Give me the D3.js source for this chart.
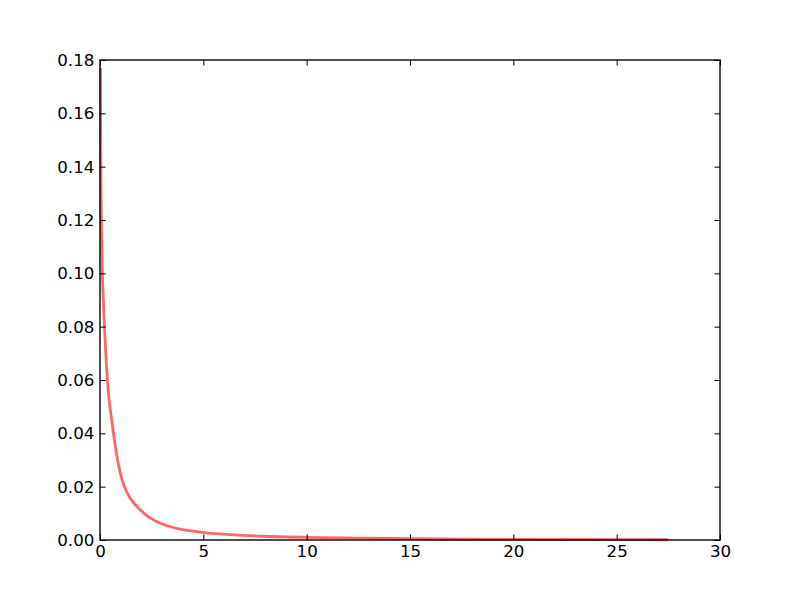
<!DOCTYPE html>
<meta charset="utf-8">
<script src="https://d3js.org/d3.v7.min.js"></script>
<style>
  body { margin: 0; background: #fff; }
  text { font-family: "DejaVu Sans", sans-serif; }
</style>
<div id="my_dataviz"></div>
<script>

// curve values
var xValues = [0.025, 0.035, 0.06, 0.1, 0.15, 0.21, 0.28, 0.35, 0.45, 0.55, 0.65, 0.85, 1.0, 1.13, 1.45, 1.94, 2.42, 3.07, 3.88, 4.96, 6.3, 7.92, 10, 12.5, 15, 17.5, 20, 22.5, 25, 27.5]
var yValues = [0.177, 0.145, 0.122, 0.104, 0.092, 0.081, 0.070, 0.061, 0.052, 0.046, 0.040, 0.030, 0.0245, 0.021, 0.0158, 0.0113, 0.0083, 0.0058, 0.0041, 0.0029, 0.0020, 0.0014, 0.0010, 0.0007, 0.0005, 0.00035, 0.00025, 0.00018, 0.00012, 0.00009]

var xTicks = [0, 5, 10, 15, 20, 25, 30]
var yTicks = [0, 0.02, 0.04, 0.06, 0.08, 0.10, 0.12, 0.14, 0.16, 0.18]

var width = 800,
    height = 600,
    mLeft = 100, mRight = 720, mTop = 60, mBottom = 540

var svg = d3.select("#my_dataviz")
  .append("svg")
    .attr("width", width)
    .attr("height", height)

var x = d3.scaleLinear().domain([0, 30]).range([mLeft, mRight])
var y = d3.scaleLinear().domain([0, 0.18]).range([mBottom, mTop])

// the curve
var line = d3.line()
  .x(function(d, i) { return x(xValues[i]) })
  .y(function(d, i) { return y(yValues[i]) })
  .curve(d3.curveCatmullRom.alpha(0.5))

svg.append("path")
  .datum(xValues)
  .attr("d", line)
  .attr("fill", "none")
  .attr("stroke", "#ff6666")
  .attr("stroke-width", 2.8)

var tickLen = 5.6

// axes, ticks pointing inward on all four sides
var xBottom = d3.axisBottom(x).tickValues(xTicks).tickSize(-tickLen).tickPadding(5.6).tickFormat(d3.format("d"))
var xTop = d3.axisTop(x).tickValues(xTicks).tickSize(-tickLen).tickFormat("")
var yLeft = d3.axisLeft(y).tickValues(yTicks).tickSize(-tickLen).tickPadding(5.6).tickFormat(d3.format(".2f"))
var yRight = d3.axisRight(y).tickValues(yTicks).tickSize(-tickLen).tickFormat("")

function style(g) {
  g.select(".domain").remove()
  g.selectAll(".tick line").attr("stroke", "#000").attr("stroke-width", 1)
  g.selectAll(".tick text").attr("fill", "#000").style("font-size", "16.7px")
}

svg.append("g").attr("transform", "translate(0," + mBottom + ")").call(xBottom).call(style)
svg.append("g").attr("transform", "translate(0," + mTop + ")").call(xTop).call(style)
svg.append("g").attr("transform", "translate(" + mLeft + ",0)").call(yLeft).call(style)
svg.append("g").attr("transform", "translate(" + mRight + ",0)").call(yRight).call(style)

// frame
svg.append("rect")
  .attr("x", mLeft)
  .attr("y", mTop)
  .attr("width", mRight - mLeft)
  .attr("height", mBottom - mTop)
  .attr("fill", "none")
  .attr("stroke", "#000")
  .attr("stroke-width", 1.4)

</script>
